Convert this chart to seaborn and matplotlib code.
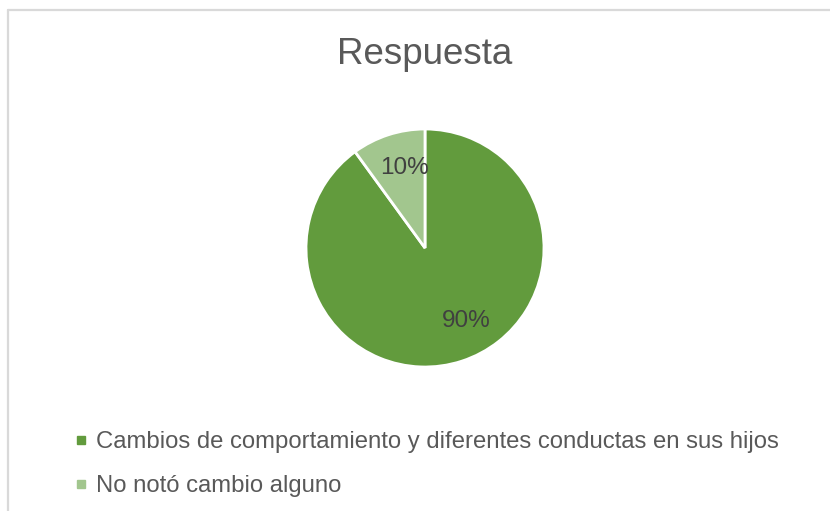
import matplotlib
matplotlib.use("Agg")
import matplotlib.pyplot as plt
from matplotlib.lines import Line2D
import seaborn as sns

categories = ["Cambios de comportamiento y diferentes conductas en sus hijos",
              "No notó cambio alguno"]
values = [90, 10]
pct_labels = ["90%", "10%"]
title = "Respuesta"
colors = ["#629B3D", "#A2C68E"]

sns.set_theme(style="white")
plt.rcParams['font.family'] = ['Liberation Sans', 'DejaVu Sans']

W, H = 830, 511
fig = plt.figure(figsize=(W / 100, H / 100), dpi=100)
fig.patch.set_facecolor("white")

# border (left and top visible)
fig.add_artist(Line2D([8 / W, 8 / W], [0, 1 - 10 / H], color="#D9D9D9", lw=1.6,
                      transform=fig.transFigure))
fig.add_artist(Line2D([8 / W, 1], [1 - 10 / H, 1 - 10 / H], color="#D9D9D9", lw=1.6,
                      transform=fig.transFigure))

cx, cy, r = 425, 248, 119
ax = fig.add_axes([(cx - r) / W, (H - cy - r) / H, 2 * r / W, 2 * r / H])
wedges, _ = ax.pie(values, colors=colors, startangle=90, counterclock=False,
                   radius=1, wedgeprops=dict(edgecolor="white", linewidth=2.0))
ax.set_xlim(-1, 1)
ax.set_ylim(-1, 1)
ax.set_aspect("equal")
ax.axis("off")

# percentage labels (positions in units of radius)
label_pos = [(41 / r, -73 / r), (-21 / r, 80 / r)]
for (x, y), t in zip(label_pos, pct_labels):
    ax.text(x, y, t, ha="center", va="center", fontsize=17.5, color="#404040")

fig.text(cx / W, 1 - 54 / H, title, ha="center", va="center", fontsize=26.5,
         color="#595959")

handles = [Line2D([0], [0], marker="s", linestyle="none", markersize=5.5,
                  markerfacecolor=c, markeredgecolor=c) for c in colors]
leg = fig.legend(handles, categories, loc="upper left",
                 bbox_to_anchor=(74 / W, 1 - 431 / H), frameon=False,
                 fontsize=17.2, handlelength=0.55, handletextpad=0.35,
                 labelspacing=0.92, borderpad=0, borderaxespad=0)
for t in leg.get_texts():
    t.set_color("#595959")

fig.savefig("out.png", dpi=100, facecolor="white")
